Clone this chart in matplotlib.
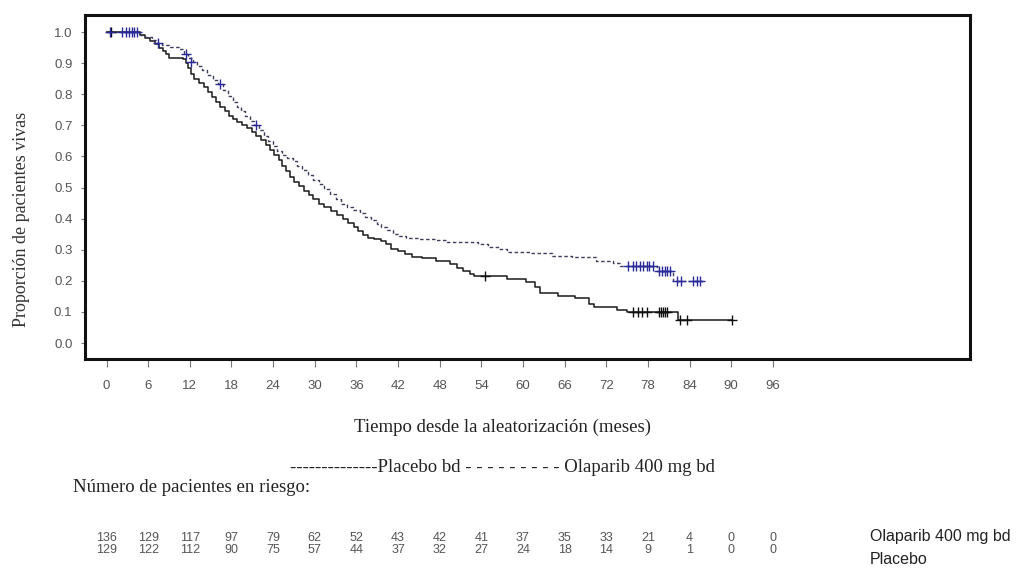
import matplotlib
matplotlib.use("Agg")
import matplotlib.pyplot as plt
import matplotlib.transforms as mtransforms

# Kaplan-Meier steps (months, proportion alive)
olaparib_t = [0, 4.8, 5.5, 6.5, 7.2, 8.0, 9.0, 10.5, 11.2, 11.8, 12.4, 13.0, 13.8, 14.5,
              15.3, 16.0, 16.8, 17.5, 18.2, 18.8, 19.4, 20.0, 20.6, 21.3, 22.0, 22.7,
              23.3, 24.0, 24.6, 25.3, 26.0, 26.8, 27.5, 28.2, 29.0, 29.8, 30.6, 31.4,
              32.2, 33.0, 33.8, 34.6, 35.5, 36.5, 37.3, 38.1, 38.9, 39.6, 40.4, 41.3,
              42.2, 43.2, 45.0, 47.5, 49.0, 53.5, 55.0, 56.5, 57.7, 61.0, 64.2, 67.0,
              70.5, 73.0, 74.0, 79.3, 81.6, 86.0]
olaparib_s = [1.0, 0.99, 0.985, 0.975, 0.965, 0.958, 0.952, 0.945, 0.93, 0.918, 0.905,
              0.892, 0.878, 0.862, 0.846, 0.832, 0.815, 0.795, 0.775, 0.76, 0.745, 0.73,
              0.715, 0.70, 0.685, 0.665, 0.648, 0.632, 0.618, 0.605, 0.595, 0.585, 0.57,
              0.556, 0.54, 0.525, 0.51, 0.495, 0.478, 0.462, 0.448, 0.436, 0.427, 0.418,
              0.405, 0.394, 0.383, 0.372, 0.362, 0.352, 0.345, 0.338, 0.335, 0.33, 0.325,
              0.318, 0.31, 0.302, 0.293, 0.29, 0.28, 0.275, 0.265, 0.258, 0.248, 0.232,
              0.198, 0.198]
olaparib_cens_t = [0.5, 2.3, 2.8, 3.2, 3.6, 4.0, 4.4, 7.4, 11.5, 12.2, 16.4, 21.5,
                   75.2, 75.8, 76.3, 76.8, 77.3, 77.8, 78.2, 78.7,
                   79.6, 80.0, 80.4, 80.8, 81.2, 82.2, 82.8, 84.5, 85.0, 85.5]
olaparib_cens_s = [1.0, 1.0, 1.0, 1.0, 1.0, 1.0, 1.0, 0.965, 0.93, 0.905, 0.832, 0.70,
                   0.248, 0.248, 0.248, 0.248, 0.248, 0.248, 0.248, 0.248,
                   0.232, 0.232, 0.232, 0.232, 0.232, 0.198, 0.198, 0.198, 0.198, 0.198]

placebo_t = [0, 4.8, 5.5, 6.3, 7.0, 7.6, 8.1, 8.6, 9.0, 11.0, 11.4, 11.8, 12.2, 12.6,
             13.3, 14.0, 14.6, 15.2, 15.8, 16.4, 17.0, 17.6, 18.2, 18.8, 19.5, 20.2,
             20.9, 21.6, 22.3, 23.0, 23.6, 24.2, 24.8, 25.3, 25.8, 26.4, 27.0, 27.7,
             28.4, 29.1, 29.8, 30.6, 31.4, 32.3, 33.2, 34.0, 34.8, 35.6, 36.3, 37.0,
             37.7, 38.6, 39.5, 40.3, 41.0, 42.0, 43.0, 44.0, 45.5, 47.5, 49.5, 50.5,
             51.3, 52.3, 53.0, 57.7, 60.5, 61.8, 62.4, 65.0, 67.5, 69.5, 70.2, 73.5,
             75.0, 82.3, 90.1]
placebo_s = [1.0, 0.99, 0.98, 0.972, 0.962, 0.95, 0.94, 0.928, 0.918, 0.912, 0.9, 0.885,
             0.865, 0.848, 0.835, 0.822, 0.808, 0.792, 0.775, 0.76, 0.745, 0.73, 0.72,
             0.71, 0.70, 0.69, 0.678, 0.665, 0.652, 0.638, 0.622, 0.605, 0.588, 0.57,
             0.552, 0.534, 0.518, 0.505, 0.49, 0.476, 0.462, 0.448, 0.436, 0.424, 0.412,
             0.398, 0.385, 0.372, 0.36, 0.348, 0.338, 0.335, 0.328, 0.318, 0.302, 0.295,
             0.285, 0.277, 0.272, 0.265, 0.255, 0.242, 0.232, 0.222, 0.215, 0.205, 0.195,
             0.18, 0.162, 0.15, 0.145, 0.125, 0.115, 0.105, 0.1, 0.075, 0.075]
placebo_cens_t = [0.6, 54.5, 75.8, 76.5, 77.2, 77.8, 79.6, 79.9, 80.2, 80.5, 80.8,
                  82.6, 83.7, 90.1]
placebo_cens_s = [1.0, 0.215, 0.1, 0.1, 0.1, 0.1, 0.1, 0.1, 0.1, 0.1, 0.1,
                  0.075, 0.075, 0.075]

x_ticks = list(range(0, 97, 6))
y_ticks = [0.0, 0.1, 0.2, 0.3, 0.4, 0.5, 0.6, 0.7, 0.8, 0.9, 1.0]
risk_olaparib = [136, 129, 117, 97, 79, 62, 52, 43, 42, 41, 37, 35, 33, 21, 4, 0, 0]
risk_placebo = [129, 122, 112, 90, 75, 57, 44, 37, 32, 27, 24, 18, 14, 9, 1, 0, 0]

W, H = 1022, 570
fig = plt.figure(figsize=(W / 100, H / 100), dpi=100)
ax = fig.add_axes([85 / W, 1 - 359 / H, (970 - 85) / W, (359 - 15) / H])

serif = "Liberation Serif"
sans = "Liberation Sans"

ax.step(placebo_t, placebo_s, where="post", color="#1a1a1a", lw=1.1)
ax.step(olaparib_t, olaparib_s, where="post", color="#3c3c5c", lw=1.0,
        linestyle=(0, (2.5, 1.8)))
ax.plot(placebo_cens_t, placebo_cens_s, "+", color="#111111", ms=7, mew=1.0)
ax.plot(olaparib_cens_t, olaparib_cens_s, "+", color="#2a2a9a", ms=7, mew=1.0)

ax.set_xlim(-3.1, 124.4)
ax.set_ylim(-0.0514, 1.0547)
ax.set_xticks(x_ticks)
ax.set_yticks(y_ticks)
ax.set_yticklabels([f"{v:.1f}" for v in y_ticks])
ax.tick_params(axis="x", length=6, width=0.8, color="#777777", pad=9,
               labelsize=9.5, labelcolor="#555555")
ax.tick_params(axis="y", length=3, width=0.8, color="#777777", pad=6,
               labelsize=9.5, labelcolor="#555555")
for lab in ax.get_xticklabels() + ax.get_yticklabels():
    lab.set_family(sans)
for sp in ax.spines.values():
    sp.set_linewidth(2.2)
    sp.set_color("#111111")

def fy(py):
    return 1 - py / H

fig.text(22 / W, fy(219), "Proporción de pacientes vivas", family=serif,
         fontsize=13, color="#333333", rotation=90, ha="center", va="center")
fig.text(502 / W, fy(427), "Tiempo desde la aleatorización (meses)", family=serif,
         fontsize=13.5, color="#222222", ha="center", va="center")
fig.text(290 / W, fy(468),
         "--------------Placebo bd - - - - - - - - - Olaparib 400 mg bd",
         family=serif, fontsize=13.5, color="#222222", ha="left", va="center")
fig.text(73 / W, fy(487), "Número de pacientes en riesgo:", family=serif,
         fontsize=13.5, color="#222222", ha="left", va="center")

trans = mtransforms.blended_transform_factory(ax.transData, fig.transFigure)
for t, a, b in zip(x_ticks, risk_olaparib, risk_placebo):
    ax.text(t, fy(538), str(a), transform=trans, ha="center", va="center",
            family=sans, fontsize=9, color="#555555", clip_on=False)
    ax.text(t, fy(550), str(b), transform=trans, ha="center", va="center",
            family=sans, fontsize=9, color="#555555", clip_on=False)

fig.text(870 / W, fy(536), "Olaparib 400 mg bd", family=sans, fontsize=11.5,
         color="#222222", ha="left", va="center")
fig.text(870 / W, fy(559), "Placebo", family=sans, fontsize=11.5,
         color="#222222", ha="left", va="center")

fig.savefig("out.png", dpi=100)
